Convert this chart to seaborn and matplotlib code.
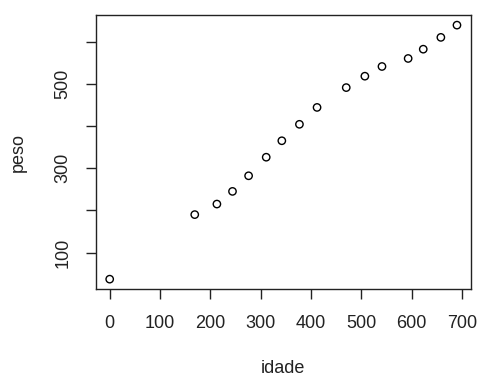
import pandas as pd
import numpy as np
import matplotlib
matplotlib.use("Agg")
import matplotlib.pyplot as plt
import seaborn as sns

# valores
idade = [0, 169, 213, 244, 276, 311, 342, 377, 412, 470, 507, 541, 593, 623, 658, 690]
peso = [37, 190, 215, 245, 282, 326, 365, 404, 444, 491, 518, 541, 560, 582, 610, 639]
xticks = [0, 100, 200, 300, 400, 500, 600, 700]
yticks = [100, 200, 300, 400, 500, 600]
ytick_labels = ["100", "", "300", "", "500", ""]

df = pd.DataFrame({"idade": idade, "peso": peso})

sns.set_style("white")
plt.rcParams['font.family'] = ['Liberation Sans', 'DejaVu Sans']

fig = plt.figure(figsize=(4.79, 3.79), dpi=100)
ax = fig.add_axes([0.2, 0.2367, 0.783, 0.7237])

sns.scatterplot(data=df, x="idade", y="peso", ax=ax, marker="o", s=28,
                facecolor="none", edgecolor="black", linewidth=1.0)

ax.set_xlim(-27.6, 717.6)
ax.set_ylim(13, 663)
ax.set_xticks(xticks)
ax.set_yticks(yticks)
ax.set_yticklabels(ytick_labels, rotation=90, va="center")

for s in ax.spines.values():
    s.set_color("#222222")
    s.set_linewidth(1.0)

ax.tick_params(axis="both", direction="out", length=7.5, width=1.0,
               color="#222222", labelsize=13, labelcolor="#222222",
               bottom=True, left=True)
ax.tick_params(axis="x", pad=11)
ax.tick_params(axis="y", pad=10)

ax.set_xlabel("idade", fontsize=13, color="#222222", labelpad=20)
ax.set_ylabel("peso", fontsize=13, color="#222222", labelpad=20)

fig.savefig("out.png", dpi=100, facecolor="white")
